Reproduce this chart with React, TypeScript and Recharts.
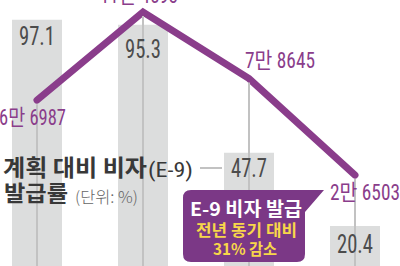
import { ComposedChart, Bar, Line, XAxis, YAxis, LabelList } from "recharts";

const periods = ["2017", "2018", "2019", "2020"];
const planRate = [97.1, 95.3, 47.7, 20.4];
const visaIssued = [66987, 114593, 78645, 26503];
const visaLabels = ["6만 6987", "11만 4593", "7만 8645", "2만 6503"];

const data = periods.map((p, i) => ({
  period: p,
  rate: planRate[i],
  issued: visaIssued[i],
  issuedLabel: visaLabels[i],
}));

const CHART_W = 424;
const CHART_H = 290;
const MARGIN = { top: 12, right: 0, bottom: 9, left: 0 };
const PLOT_BOTTOM = CHART_H - MARGIN.bottom;

const PURPLE = "#8a3d8b";
const NARROW = '"Liberation Sans Narrow", "Roboto Condensed", "Liberation Sans", "Noto Sans CJK KR", sans-serif';
const KR = '"Noto Sans CJK KR", "Noto Sans", sans-serif';

// label placement for the line values (relative to the point)
const lineLabelPos = [
  { dx: -38, dy: 25, w: 67 },
  { dx: -43, dy: -9, w: 78 },
  { dx: -4, dy: -11, w: 70 },
  { dx: -25, dy: 25, w: 70 },
];
const barLabelDy = [25, 33, 24, 27];

function BarValue(props: any) {
  const { x, y, width, value, index } = props;
  return (
    <text
      x={x + width / 2}
      y={y + barLabelDy[index]}
      textAnchor="middle"
      fill="#4c4c4c"
      fontSize={25}
      fontFamily={NARROW}
      textLength={36}
      lengthAdjust="spacingAndGlyphs"
    >
      {value}
    </text>
  );
}

function LineValue(props: any) {
  const { x, y, value, index } = props;
  const p = lineLabelPos[index];
  return (
    <text
      x={x + p.dx}
      y={y + p.dy}
      fill={PURPLE}
      fontSize={22}
      fontFamily={NARROW}
      textLength={p.w}
      lengthAdjust="spacingAndGlyphs"
    >
      {value}
    </text>
  );
}

function DropLine(props: any) {
  const { cx, cy, index } = props;
  if (cx == null || cy == null) return <g key={`d-${index}`} />;
  return (
    <line
      key={`d-${index}`}
      x1={cx}
      x2={cx}
      y1={cy + 4}
      y2={PLOT_BOTTOM}
      stroke="#c2c2c2"
      strokeWidth={2}
    />
  );
}

export default function App() {
  return (
    <div
      style={{
        position: "absolute",
        left: 0,
        top: 0,
        width: 400,
        height: 266,
        overflow: "hidden",
        background: "#fff",
      }}
    >
      <div style={{ position: "absolute", left: -16, top: 0 }}>
        <ComposedChart width={CHART_W} height={CHART_H} data={data} margin={MARGIN}>
          <XAxis dataKey="period" hide />
          <YAxis yAxisId="rate" domain={[0, 100]} hide />
          <YAxis yAxisId="issued" domain={[-30700, 114500]} hide />
          <Bar
            yAxisId="rate"
            dataKey="rate"
            fill="#dcdddd"
            barSize={50}
            isAnimationActive={false}
          >
            <LabelList dataKey="rate" content={BarValue} />
          </Bar>
          <Line
            yAxisId="issued"
            dataKey="issued"
            stroke="none"
            dot={DropLine}
            activeDot={false}
            isAnimationActive={false}
          />
          <Line
            yAxisId="issued"
            dataKey="issued"
            stroke={PURPLE}
            strokeWidth={7}
            strokeLinecap="round"
            strokeLinejoin="miter"
            type="linear"
            dot={false}
            activeDot={false}
            isAnimationActive={false}
          >
            <LabelList dataKey="issuedLabel" content={LineValue} />
          </Line>
        </ComposedChart>
      </div>
      <svg
        width={400}
        height={266}
        style={{ position: "absolute", left: 0, top: 0, pointerEvents: "none" }}
      >
        <text x={3} y={176} fill="#383838" fontSize={23} fontWeight={700} fontFamily={KR} textLength={144} lengthAdjust="spacingAndGlyphs">
          계획 대비 비자
        </text>
        <text x={148} y={177} fill="#383838" fontSize={21} fontFamily={NARROW} textLength={45} lengthAdjust="spacingAndGlyphs">
          (E-9)
        </text>
        <line x1={200} x2={222} y1={168} y2={168} stroke="#9a9a9a" strokeWidth={1.2} />
        <text x={4} y={201} fill="#383838" fontSize={22} fontWeight={700} fontFamily={KR} textLength={64} lengthAdjust="spacingAndGlyphs">
          발급률
        </text>
        <text x={75} y={203} fill="#666" fontSize={16} fontWeight={300} fontFamily={KR} textLength={63} lengthAdjust="spacingAndGlyphs">
          (단위: %)
        </text>
        <path
          d="M191 190 H324 L305 212 V254 Q305 262 297 262 H191 Q183 262 183 254 V198 Q183 190 191 190 Z"
          fill="#7b3886"
        />
        <text x={190} y={216} fill="#fff" fontSize={19} fontWeight={700} fontFamily={KR} textLength={112} lengthAdjust="spacingAndGlyphs">
          E-9 비자 발급
        </text>
        <text x={196} y={236} fill="#f7d64a" fontSize={16} fontWeight={700} fontFamily={KR} textLength={101} lengthAdjust="spacingAndGlyphs">
          전년 동기 대비
        </text>
        <text x={213} y={255} fill="#f7d64a" fontSize={16} fontWeight={700} fontFamily={KR} textLength={64} lengthAdjust="spacingAndGlyphs">
          31% 감소
        </text>
      </svg>
    </div>
  );
}
